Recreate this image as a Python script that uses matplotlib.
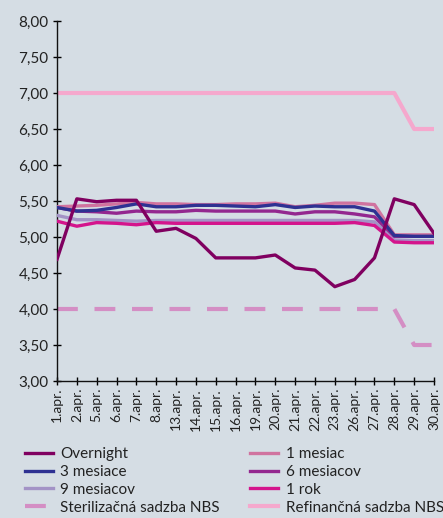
import matplotlib
matplotlib.use("Agg")
import matplotlib.pyplot as plt
from matplotlib.ticker import FuncFormatter
import numpy as np

plt.rcParams["font.family"] = ["Lato", "DejaVu Sans"]

dates = ["1.apr.", "2.apr.", "5.apr.", "6.apr.", "7.apr.", "8.apr.", "13.apr.",
         "14.apr.", "15.apr.", "16.apr.", "19.apr.", "20.apr.", "21.apr.",
         "22.apr.", "23.apr.", "26.apr.", "27.apr.", "28.apr.", "29.apr.", "30.apr."]

overnight = [4.69, 5.53, 5.49, 5.51, 5.51, 5.08, 5.12, 4.98, 4.71, 4.71,
             4.71, 4.75, 4.57, 4.54, 4.31, 4.41, 4.71, 5.53, 5.45, 5.05]
mesiac_1 = [5.42, 5.43, 5.44, 5.46, 5.48, 5.46, 5.46, 5.45, 5.45, 5.46,
            5.46, 5.47, 5.42, 5.44, 5.47, 5.47, 5.45, 5.03, 5.03, 5.03]
mesiace_3 = [5.41, 5.36, 5.37, 5.41, 5.46, 5.42, 5.42, 5.44, 5.44, 5.43,
             5.42, 5.45, 5.41, 5.43, 5.42, 5.42, 5.36, 5.02, 5.01, 5.01]
mesiacov_6 = [5.41, 5.36, 5.35, 5.33, 5.36, 5.35, 5.35, 5.37, 5.36, 5.36,
              5.36, 5.36, 5.32, 5.35, 5.35, 5.32, 5.28, 5.01, 5.01, 5.01]
mesiacov_9 = [5.30, 5.24, 5.24, 5.23, 5.22, 5.23, 5.23, 5.23, 5.23, 5.23,
              5.23, 5.23, 5.23, 5.23, 5.23, 5.23, 5.21, 4.96, 4.95, 4.95]
rok_1 = [5.22, 5.15, 5.20, 5.19, 5.17, 5.20, 5.19, 5.19, 5.19, 5.19,
         5.19, 5.19, 5.19, 5.19, 5.19, 5.20, 5.16, 4.93, 4.92, 4.92]
sterilizacna = [4.00] * 18 + [3.50, 3.50]
refinancna = [7.00] * 18 + [6.50, 6.50]

bg = "#d5dde4"
fig = plt.figure(figsize=(4.43, 5.18), dpi=100, facecolor=bg)
ax = fig.add_axes([57 / 443, 1 - 381 / 518, (434 - 57) / 443, 360 / 518])
ax.set_facecolor(bg)

x = np.arange(len(dates))
lw = 2.4
ax.plot(x, refinancna, color="#f5a8cd", lw=3, label="Refinančná sadzba NBS", zorder=2)
ax.plot(x, sterilizacna, color="#d48ec4", lw=3, ls=(0, (5, 4)),
        label="Sterilizačná sadzba NBS", zorder=2)
ax.plot(x, mesiacov_9, color="#a393c6", lw=lw, label="9 mesiacov", zorder=3)
ax.plot(x, rok_1, color="#d4148c", lw=lw, label="1 rok", zorder=3)
ax.plot(x, mesiacov_6, color="#93278f", lw=lw, label="6 mesiacov", zorder=3)
ax.plot(x, mesiac_1, color="#d0739f", lw=lw, label="1 mesiac", zorder=3)
ax.plot(x, mesiace_3, color="#2e3192", lw=lw, label="3 mesiace", zorder=4)
ax.plot(x, overnight, color="#800060", lw=lw, label="Overnight", zorder=5)

ax.set_xlim(0, len(dates) - 1)
ax.set_ylim(3, 8)
ax.set_yticks(np.arange(3, 8.01, 0.5))
ax.yaxis.set_major_formatter(FuncFormatter(lambda v, p: f"{v:.2f}".replace(".", ",")))
ax.set_xticks(x)
ax.set_xticklabels(dates, rotation=90, fontsize=10, color="#222222")
ax.tick_params(axis="y", labelsize=11, labelcolor="#222222", direction="inout",
               length=6, width=1, pad=3)
ax.tick_params(axis="x", direction="inout", length=6, width=1, pad=2)
for s in ("top", "right"):
    ax.spines[s].set_visible(False)
for s in ("left", "bottom"):
    ax.spines[s].set_color("#111111")
    ax.spines[s].set_linewidth(1)

handles, labels = ax.get_legend_handles_labels()
order = ["Overnight", "1 mesiac", "3 mesiace", "6 mesiacov", "9 mesiacov",
         "1 rok", "Sterilizačná sadzba NBS", "Refinančná sadzba NBS"]
hmap = dict(zip(labels, handles))
# ncol=2 fills columns first, so reorder for row-wise reading
leg_labels = order[0::2] + order[1::2]
leg = fig.legend([hmap[l] for l in leg_labels], leg_labels, ncol=2,
                 loc="upper left", bbox_to_anchor=(19 / 443, 1 - 441 / 518),
                 frameon=False, fontsize=11, handlelength=1.8, handletextpad=0.5,
                 columnspacing=2.0, labelspacing=0.25, borderaxespad=0)
for t in leg.get_texts():
    t.set_color("#222222")

fig.savefig("out.png", dpi=100, facecolor=bg)
